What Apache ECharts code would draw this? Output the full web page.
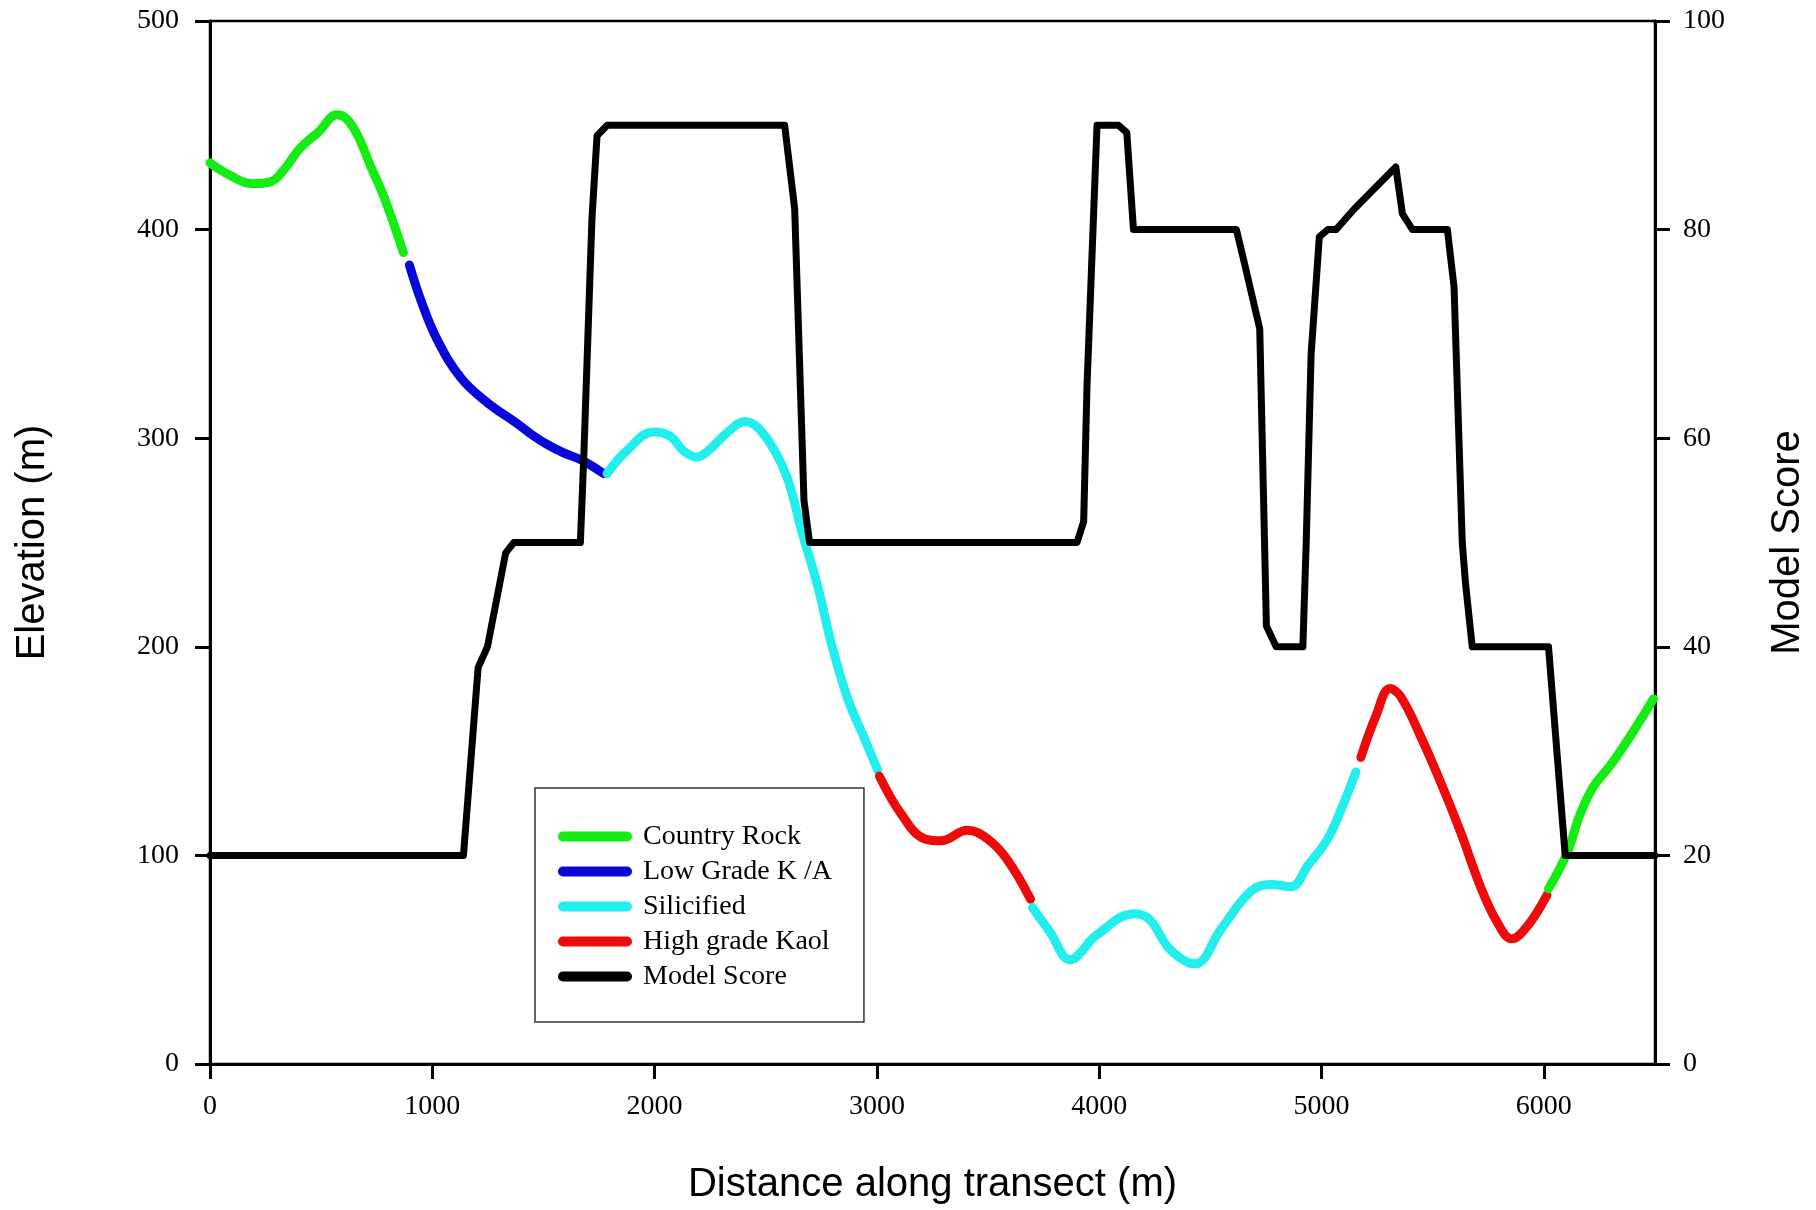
<!DOCTYPE html>
<html><head><meta charset="utf-8">
<script src="https://cdn.jsdelivr.net/npm/echarts@6/dist/echarts.min.js"></script>
<style>html,body{margin:0;padding:0;background:#fff}#c{width:1816px;height:1210px}</style>
</head><body><div id="c"></div>
<script>
// ---- tick labels ----
const xTicks = [0, 1000, 2000, 3000, 4000, 5000, 6000];
const elevTicks = [0, 100, 200, 300, 400, 500];
const scoreTicks = [0, 20, 40, 60, 80, 100];

// ---- elevation profile segments [distance (m), elevation (m)] ----
const countryRockA = [[0,432],[90,426],[190,422],[275,423],[335,429],[405,439],[490,447],[570,455],[615,453],[665,445],[720,431],[785,415],[870,389]];
const lowGradeKA = [[897,383],[949,366],[1023,347],[1128,329],[1248,317],[1382,307],[1457,301],[1517,297],[1591,293],[1681,289],[1771,283]];
const silicifiedA = [[1786,283],[1875,294],[1995,303],[2070,301],[2129,294],[2190,291],[2241,294],[2330,303],[2406,308],[2465,305],[2540,294],[2600,280],[2660,256],[2734,229],[2794,202],[2869,175],[2944,156],[3003,141]];
const highGradeA = [[3011,138],[3108,120],[3213,108],[3287,107],[3407,112],[3496,108],[3586,98],[3691,79]];
const silicifiedB = [[3700,75],[3780,63],[3868,50],[3990,62],[4160,72],[4229,69],[4318,55],[4430,48],[4550,65],[4684,83],[4774,86],[4864,85],[4938,95],[5028,108],[5088,122],[5155,140]];
const highGradeB = [[5177,147],[5245,167],[5308,180],[5357,176],[5446,157],[5536,135],[5626,111],[5715,85],[5790,68],[5855,60],[5925,66],[6014,81]];
const countryRockB = [[6021,84],[6104,101],[6164,120],[6223,133],[6298,143],[6388,157],[6493,175]];

// ---- model score [distance (m), score] ----
const modelScore = [[0,20],[1140,20],[1206,38],[1248,40],[1330,49],[1367,50],[1666,50],[1681,58],[1718,81],[1741,89],[1786,90],[2585,90],[2630,82],[2672,54],[2697,50],[3900,50],[3930,52],[3945,65],[3990,90],[4087,90],[4124,89.3],[4154,80],[4617,80],[4654,76.7],[4722,70.5],[4752,42],[4796,40],[4916,40],[4931,50],[4953,68],[4990,79.3],[5028,80],[5065,80],[5148,82],[5334,86],[5364,81.5],[5409,80],[5566,80],[5596,74.5],[5633,50],[5648,46],[5678,40],[6021,40],[6096,20],[6500,20]];

const names = ['Country Rock', 'Low Grade K /A', 'Silicified', 'High grade Kaol', 'Model Score'];
const colors = {green:'#14ec14', blue:'#0808d8', cyan:'#22eeee', red:'#ec0a0a', black:'#000000'};

function elevSeries(name, data, color) {
  return {type:'line', name:name, data:data, xAxisIndex:0, yAxisIndex:0, smooth:0.4, symbol:'none',
    lineStyle:{color:color, width:9, cap:'round', join:'round'}, itemStyle:{color:color}, z:3, silent:true};
}

const serif = 'Liberation Serif';
const sans = 'Liberation Sans';
const plain = function (v) { return String(v); };
const axisLine = {show:true, lineStyle:{color:'#000', width:3}};
const axisTick = {show:true, inside:false, length:15, lineStyle:{color:'#000', width:3}};

const chart = echarts.init(document.getElementById('c'), null, {renderer:'canvas'});
chart.setOption({
  animation:false,
  backgroundColor:'#fff',
  grid:{left:210, right:156, top:21, bottom:145, show:true, borderColor:'#000', borderWidth:2.5, backgroundColor:'transparent'},
  legend:{
    data:names, orient:'vertical', left:535, top:788,
    padding:[31, 32, 28, 23], itemWidth:74, itemHeight:10, itemGap:0,
    icon:'path://M5 0H69A5 5 0 0 1 69 10H5A5 5 0 0 1 5 0Z',
    textStyle:{fontFamily:serif, fontSize:28, color:'#000', lineHeight:35, padding:[0,0,0,6]},
    backgroundColor:'#fff', borderColor:'#333', borderWidth:1.5, selectedMode:false
  },
  xAxis:{
    type:'value', min:0, max:6500, position:'bottom',
    axisLine:axisLine, axisTick:Object.assign({customValues:xTicks}, axisTick),
    axisLabel:{customValues:xTicks, formatter:plain, margin:29, fontFamily:serif, fontSize:28, color:'#000'},
    splitLine:{show:false},
    name:'Distance along transect (m)', nameLocation:'middle', nameGap:101,
    nameTextStyle:{fontFamily:sans, fontSize:40, color:'#000'}
  },
  yAxis:[{
    type:'value', min:0, max:500, interval:100, position:'left',
    axisLine:axisLine, axisTick:axisTick,
    axisLabel:{margin:31, formatter:plain, fontFamily:serif, fontSize:28, color:'#000', customValues:elevTicks},
    splitLine:{show:false},
    name:'Elevation (m)', nameLocation:'middle', nameRotate:90, nameGap:157,
    nameTextStyle:{fontFamily:sans, fontSize:40, color:'#000'}
  },{
    type:'value', min:0, max:100, interval:20, position:'right',
    axisLine:axisLine, axisTick:axisTick,
    axisLabel:{margin:28, formatter:plain, fontFamily:serif, fontSize:28, color:'#000', customValues:scoreTicks},
    splitLine:{show:false},
    name:'Model Score', nameLocation:'middle', nameRotate:90, nameGap:113,
    nameTextStyle:{fontFamily:sans, fontSize:40, color:'#000'}
  }],
  series:[
    elevSeries('Country Rock', countryRockA, colors.green),
    elevSeries('Low Grade K /A', lowGradeKA, colors.blue),
    elevSeries('Silicified', silicifiedA, colors.cyan),
    elevSeries('High grade Kaol', highGradeA, colors.red),
    elevSeries('Silicified', silicifiedB, colors.cyan),
    elevSeries('High grade Kaol', highGradeB, colors.red),
    elevSeries('Country Rock', countryRockB, colors.green),
    {type:'line', name:'Model Score', data:modelScore, xAxisIndex:0, yAxisIndex:1, smooth:false, symbol:'none',
      lineStyle:{color:colors.black, width:7, cap:'round', join:'round'}, itemStyle:{color:colors.black}, z:4, silent:true}
  ]
});
</script>
</body></html>
